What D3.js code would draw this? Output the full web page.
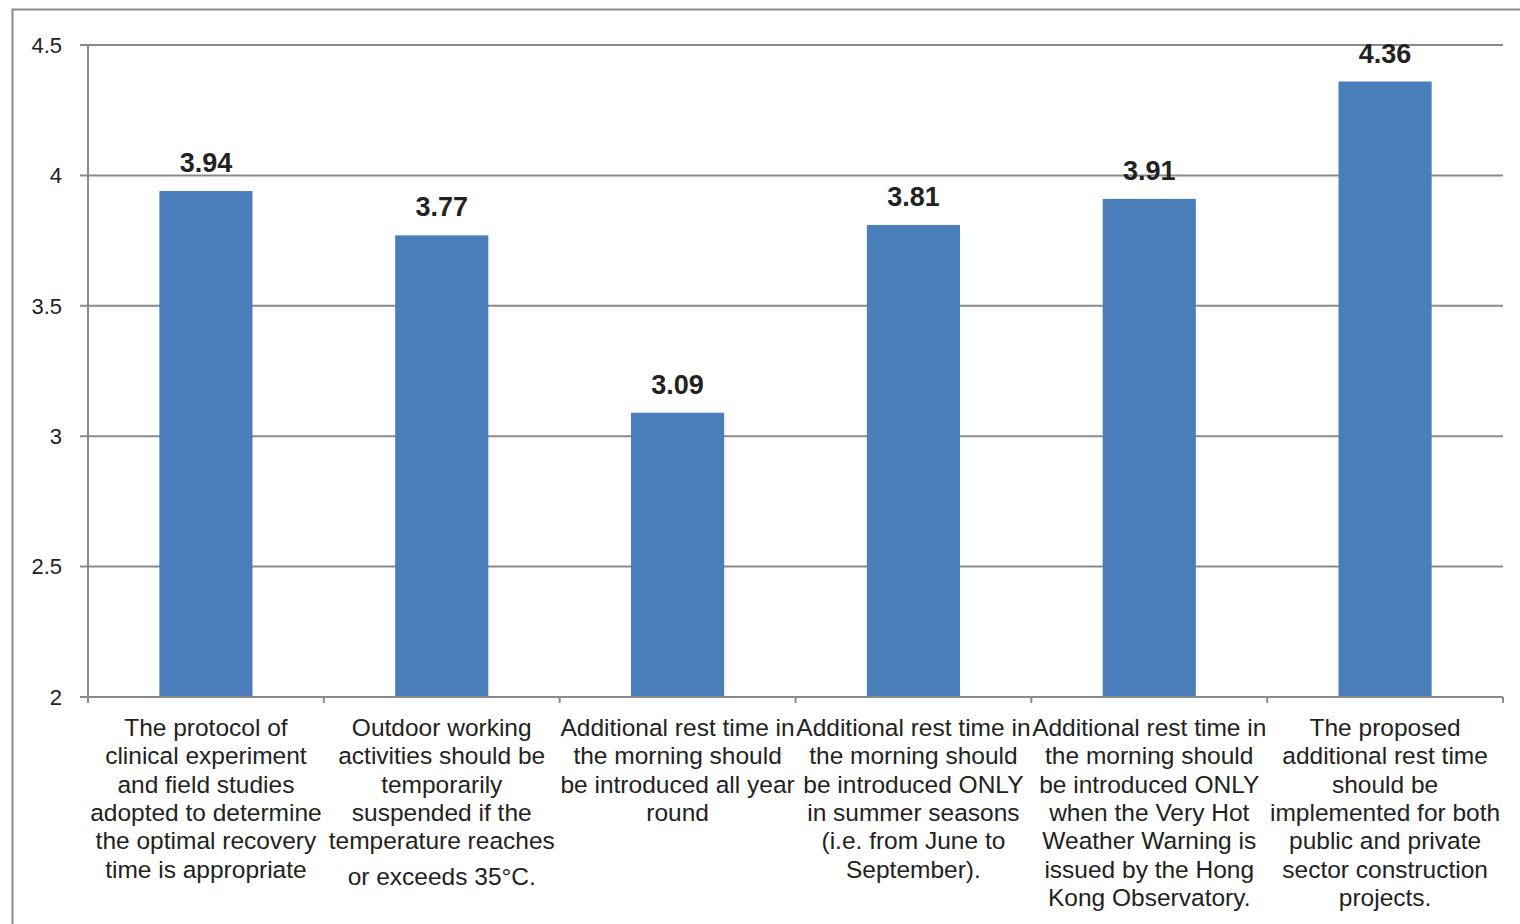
<!DOCTYPE html>
<html><head><meta charset="utf-8">
<script src="https://cdn.jsdelivr.net/npm/d3@7"></script>
<style>
html,body{margin:0;padding:0;background:#fff;}
svg{display:block;}
</style></head>
<body>
<svg id="chart" width="1520" height="924"></svg>
<script>
const categories = [
  ["The protocol of","clinical experiment","and field studies","adopted to determine","the optimal recovery","time is appropriate"],
  ["Outdoor working","activities should be","temporarily","suspended if the","temperature reaches","or exceeds 35°C."],
  ["Additional rest time in","the morning should","be introduced all year","round"],
  ["Additional rest time in","the morning should","be introduced ONLY","in summer seasons","(i.e. from June to","September)."],
  ["Additional rest time in","the morning should","be introduced ONLY","when the Very Hot","Weather Warning is","issued by the Hong","Kong Observatory."],
  ["The proposed","additional rest time","should be","implemented for both","public and private","sector construction","projects."]
];
const values = [3.94, 3.77, 3.09, 3.81, 3.91, 4.36];
const yTicks = [2, 2.5, 3, 3.5, 4, 4.5];
const yTickLabels = ["2", "2.5", "3", "3.5", "4", "4.5"];

(function () {
const svg = d3.select("#chart");
const font = "'Liberation Sans', Arial, sans-serif";
const gray = "#8a8a8a";

// outer frame
svg.append("rect").attr("x", 12.5).attr("y", 9.5).attr("width", 1540).attr("height", 960)
  .attr("fill", "none").attr("stroke", gray).attr("stroke-width", 2);

const pLeft = 88, pRight = 1503, pTop = 45, pBottom = 697;
const idx = d3.range(categories.length);
const x = d3.scaleBand().domain(idx).range([pLeft, pRight]).paddingInner(0.605).paddingOuter(0.3025);
const xb = d3.scaleBand().domain(idx).range([pLeft, pRight]).padding(0);
const y = d3.scaleLinear().domain([2, 4.5]).range([pBottom, pTop]);

// gridlines + y ticks
svg.selectAll("line.grid").data(yTicks).join("line").attr("class", "grid")
  .attr("x1", 80).attr("x2", pRight).attr("y1", d => y(d)).attr("y2", d => y(d))
  .attr("stroke", gray).attr("stroke-width", 2);
svg.selectAll("text.ytick").data(yTicks).join("text").attr("class", "ytick")
  .attr("x", 62).attr("y", d => y(d)).attr("dy", "0.35em")
  .attr("text-anchor", "end").attr("font-family", font).attr("font-size", 22).attr("fill", "#222")
  .text((d, i) => yTickLabels[i]);

// y axis
svg.append("line").attr("x1", pLeft).attr("x2", pLeft).attr("y1", pTop).attr("y2", pBottom + 6)
  .attr("stroke", gray).attr("stroke-width", 2);

// bars
svg.selectAll("rect.bar").data(values).join("rect").attr("class", "bar")
  .attr("x", (d, i) => x(i)).attr("width", x.bandwidth())
  .attr("y", d => y(d)).attr("height", d => y(2) - y(d))
  .attr("fill", "#4a7ebb");

// x axis
svg.append("line").attr("x1", pLeft).attr("x2", pRight).attr("y1", pBottom).attr("y2", pBottom)
  .attr("stroke", gray).attr("stroke-width", 2);
const bounds = idx.map(i => xb(i)).concat([pRight]);
svg.selectAll("line.xtick").data(bounds).join("line").attr("class", "xtick")
  .attr("x1", d => d).attr("x2", d => d).attr("y1", pBottom).attr("y2", pBottom + 6)
  .attr("stroke", gray).attr("stroke-width", 2);

// value labels
svg.selectAll("text.val").data(values).join("text").attr("class", "val")
  .attr("x", (d, i) => x(i) + x.bandwidth() / 2).attr("y", d => y(d) - 19)
  .attr("text-anchor", "middle").attr("font-family", font).attr("font-weight", "bold")
  .attr("font-size", 27).attr("fill", "#222").text(d => d.toFixed(2));

// category labels
categories.forEach((lines, i) => {
  const t = svg.append("text").attr("text-anchor", "middle").attr("font-family", font)
    .attr("font-size", 24.5).attr("fill", "#222");
  lines.forEach((ln, j) => {
    const extra = (ln.indexOf("°") >= 0) ? 7 : 0;
    t.append("tspan").attr("x", xb(i) + xb.bandwidth() / 2).attr("y", 736 + j * 28.3 + extra).text(ln);
  });
});
})();
</script>
</body></html>
